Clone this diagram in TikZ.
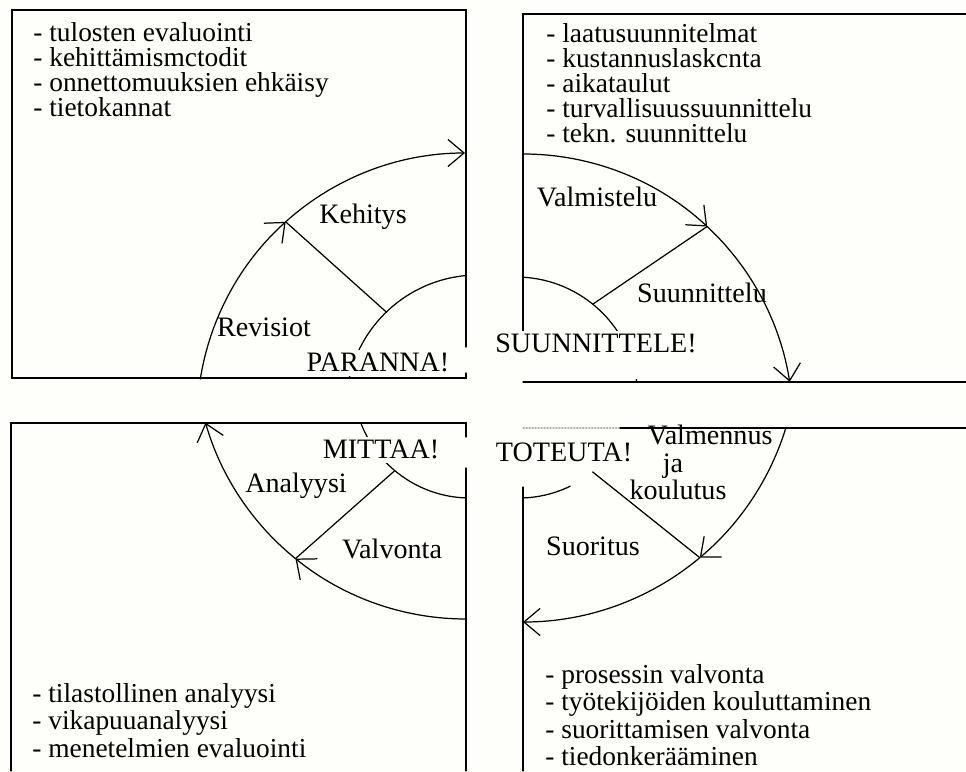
\documentclass[tikz,border=0pt]{standalone}
\usepackage{fontspec}
\setmainfont{Liberation Serif}
\usepackage{tikz}
\usetikzlibrary{calc,arrows.meta}
\definecolor{papier}{RGB}{254,254,250}

\begin{document}
\begin{tikzpicture}[x=0.02cm,y=0.02cm,
lst/.style={font=\fontsize{15.6pt}{14.2pt}\selectfont,align=left,anchor=north west,inner sep=0pt},
lstb/.style={lst,font=\fontsize{15.6pt}{15.6pt}\selectfont},
lab/.style={font=\fontsize{16pt}{15pt}\selectfont,anchor=base,inner sep=0pt},
hub/.style={lab,fill=papier,inner sep=2pt},
ln/.style={line width=0.7pt,line cap=round},
arr/.style={ln,->},
>={Straight Barb[angle=80:12pt]}]
	%page
	\path[use as bounding box,fill=papier] (0,0) rectangle (966,771);
	%quadrant boxes
	\draw[ln] (466,424) -- (466,761) -- (12,761) -- (12,393) -- (466,393) -- (466,398);
	\draw[ln] (523,436) -- (523,757) -- (966,757);
	\draw[ln] (523,389) -- (966,389);
	\draw[ln] (466,303) -- (466,0);
	\draw[ln] (11,0) -- (11,348) -- (466,348) -- (466,334);
	\draw[ln,gray!60,densely dotted] (523,343) -- (620,343);
	\draw[ln] (620,343) -- (966,343);
	\draw[ln] (523,284) -- (523,0);

	%centres of the arcs
	\coordinate (tlO) at (465,350); \coordinate (tlI) at (478,364);
	\coordinate (trO) at (523,347); \coordinate (trI) at (516,372);
	\coordinate (brO) at (523,424); \coordinate (brI) at (519,390);
	\coordinate (blO) at (466,423); \coordinate (blI) at (470,390);

	%inner arcs
	\draw[ln] ($(tlI)+(95:132)$) arc[start angle=95,end angle=167,radius=132];
	\draw[ln] ($(trI)+(87:122)$) arc[start angle=87,end angle=8,radius=122];
	\draw[ln] ($(brI)+(-88:117)$) arc[start angle=-88,end angle=-64,radius=117];
	\draw[ln] ($(blI)+(201:117)$) arc[start angle=201,end angle=268,radius=117];

	%outer arcs
	\coordinate (kehi) at ($(tlO)+(132:268)$);
	\coordinate (valm) at ($(trO)+(47:270)$);
	\coordinate (suor) at ($(brO)+(-50:275)$);
	\coordinate (anal) at ($(blO)+(231:271)$);
	\draw[arr] ($(tlO)+(171:268)$) arc[start angle=171,end angle=132,radius=268];
	\draw[arr] (kehi) arc[start angle=132,end angle=90,radius=268];
	\draw[arr] ($(trO)+(90:270)$) arc[start angle=90,end angle=47,radius=270];
	\draw[arr] (valm) arc[start angle=47,end angle=9,radius=270];
	\draw[arr] ($(brO)+(-17:275)$) arc[start angle=-17,end angle=-50,radius=275];
	\draw[arr] (suor) arc[start angle=-50,end angle=-90,radius=275];
	\draw[arr] ($(blO)+(270:271)$) arc[start angle=270,end angle=231,radius=271];
	\draw[arr] (anal) arc[start angle=231,end angle=196,radius=271];

	%spokes
	\coordinate (tlJ) at ($(tlI)+(134:132)$);
	\coordinate (trJ) at ($(trI)+(51:122)$);
	\coordinate (brJ) at ($(brI)+(-51:117)$);
	\coordinate (blJ) at ($(blI)+(230:117)$);
	\draw[ln] (tlJ) -- (kehi);
	\draw[ln] (trJ) -- (valm);
	\draw[ln] (brJ) -- (suor);
	\draw[ln] (blJ) -- (anal);

	%phase labels
	\node[lab] (kehitys) at (363,547) {Kehitys};
	\node[lab] (revisiot) at (264,434) {Revisiot};
	\node[lab] (valmistelu) at (597,564) {Valmistelu};
	\node[lab] (suunnittelu) at (702,468) {Suunnittelu};
	\node[lab] (analyysi) at (296,278) {Analyysi};
	\node[lab] (valvonta) at (392,213) {Valvonta};
	\node[lab] (suoritus) at (593,216) {Suoritus};
	\node[lab] (valmennus) at (710,326) {Valmennus};
	\node[lab] (ja) at ([xshift=-0.74cm,yshift=-0.56cm]valmennus.base) {ja};
	\node[lab] (koulutus) at ([xshift=0.1cm,yshift=-0.54cm]ja.base) {koulutus};

	%centre words
	\node[hub] (paranna) at (378,399) {PARANNA!};
	\node[hub,text depth=0.44cm] (suunnittele) at (596,418) {SUUNNITTELE!};
	\node[hub] (mittaa) at (381,312) {MITTAA!};
	\node[hub] (toteuta) at (564,309) {TOTEUTA!};

	%lists
	\node[lst] (parannus) at (33,749) {- tulosten evaluointi\\- kehittämismctodit\\- onnettomuuksien ehkäisy\\- tietokannat};
	\node[lst] (suunnitelma) at (546,748) {- laatusuunnitelmat\\- kustannuslaskcnta\\- aikataulut\\- turvallisuussuunnittelu\\- tekn. suunnittelu};
	\node[lstb] (mittaus) at (32,88) {- tilastollinen analyysi\\- vikapuuanalyysi\\- menetelmien evaluointi};
	\node[lstb] (toteutus) at (545,107) {- prosessin valvonta\\- työtekijöiden kouluttaminen\\- suorittamisen valvonta\\- tiedonkerääminen};
\end{tikzpicture}
\end{document}
